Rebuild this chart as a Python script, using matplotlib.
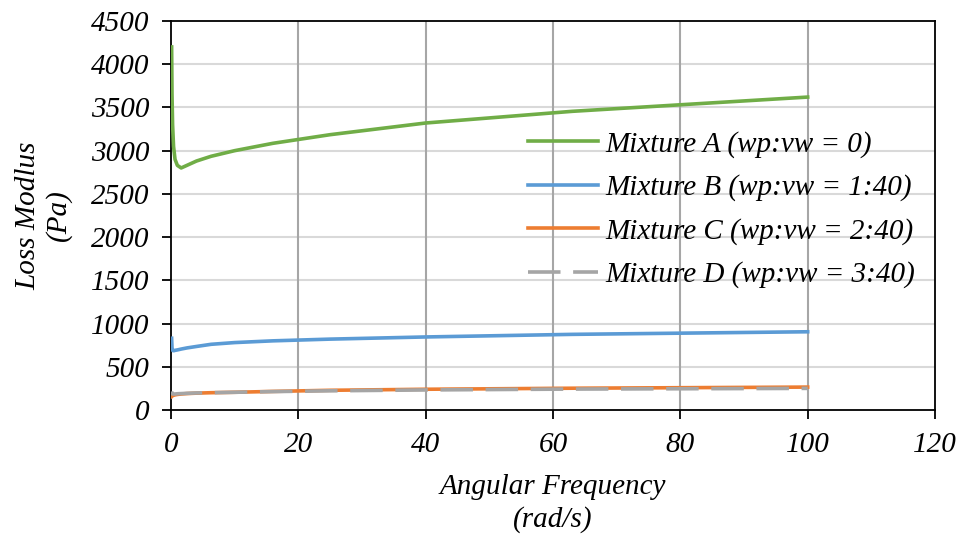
import numpy as np
import matplotlib
matplotlib.use("Agg")
import matplotlib.pyplot as plt

# angular frequency (rad/s) and loss modulus (Pa)
freq = [0.1, 0.16, 0.25, 0.4, 0.63, 1.0, 1.6, 2.5, 4, 6.3, 10, 16, 25, 40, 63, 100]
mix_a = [4200, 3650, 3300, 3050, 2900, 2830, 2800, 2830, 2880, 2935, 3000, 3085, 3185, 3320, 3455, 3620]
mix_b = [830, 720, 690, 685, 690, 695, 705, 718, 735, 760, 780, 800, 820, 845, 875, 905]
mix_c = [155, 160, 165, 170, 175, 180, 185, 190, 195, 200, 205, 215, 228, 240, 252, 265]
mix_d = [215, 190, 185, 185, 185, 188, 190, 193, 197, 200, 205, 213, 222, 232, 242, 250]

labels = ["Mixture A (wp:vw = 0)", "Mixture B (wp:vw = 1:40)",
          "Mixture C (wp:vw = 2:40)", "Mixture D (wp:vw = 3:40)"]

plt.rcParams['font.family'] = ['Liberation Serif', 'DejaVu Serif']
plt.rcParams['font.style'] = 'italic'
plt.rcParams['font.size'] = 21

fig = plt.figure(figsize=(9.64, 5.36), dpi=100)
ax = fig.add_axes([171/964, 1 - 410/536, (935-171)/964, (410-21)/536])

lw = 2.6
ax.plot(freq, mix_a, color="#70ad47", lw=lw, label=labels[0], zorder=4)
ax.plot(freq, mix_b, color="#5b9bd5", lw=lw, label=labels[1], zorder=4)
ax.plot(freq, mix_c, color="#ed7d31", lw=lw, label=labels[2], zorder=4)
ax.plot(freq, mix_d, color="#a5a5a5", lw=lw, dashes=(9, 3.5), label=labels[3], zorder=5)

ax.set_xlim(0, 120)
ax.set_ylim(0, 4500)
ax.set_xticks(range(0, 121, 20))
ax.set_yticks(range(0, 4501, 500))

# gridlines: light horizontal, darker vertical
for y in range(500, 4500, 500):
    ax.axhline(y, color="#d9d9d9", lw=1.5, zorder=1)
for x in range(20, 120, 20):
    ax.axvline(x, color="#a6a6a6", lw=1.5, zorder=1)

for s in ax.spines.values():
    s.set_color("black")
    s.set_linewidth(1.3)
ax.tick_params(direction="out", length=6.5, width=1.3, color="black")
ax.tick_params(axis="x", pad=9)
ax.tick_params(axis="y", pad=9)

ax.set_xlabel("Angular Frequency\n(rad/s)", linespacing=1.3, labelpad=12)
ax.set_ylabel("Loss Modlus\n(Pa)", linespacing=1.15, labelpad=14)

leg = ax.legend(loc="center left", bbox_to_anchor=(0.467, 0.515), frameon=False,
                borderpad=0, borderaxespad=0,
                handlelength=2.4, handletextpad=0.25, labelspacing=0.57)

fig.savefig("out.png", dpi=100)
